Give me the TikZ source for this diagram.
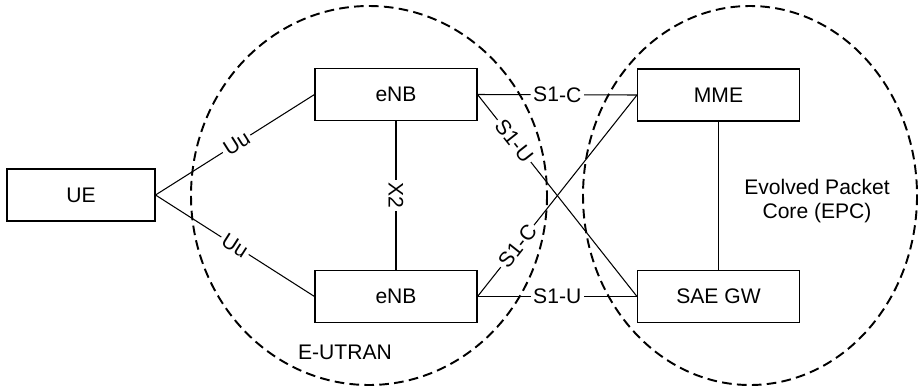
\documentclass[tikz,border=0pt]{standalone}
\usepackage{fontspec}
\setmainfont{Liberation Sans}
\begin{document}
\begin{tikzpicture}[x=0.02cm,y=-0.02cm,font=\fontsize{12}{13.6}\selectfont,
    entity/.style={draw,line width=0.6pt,minimum width=3.24cm,
      minimum height=1.04cm,inner sep=0pt},
    link/.style={line width=0.6pt},
    iface/.style={fill=white,inner sep=1.5pt,sloped},
    netarea/.style={line width=1.1pt,dash pattern=on 5.5pt off 3pt}]

    \useasboundingbox (0,0) rectangle (918,389);

    % network domains
    \draw[netarea] (369,195.5) ellipse [x radius=178,y radius=189.5];
    \draw[netarea] (750,195.5) ellipse [x radius=167,y radius=189.5];
    \node (eutranlabel) at (345,352) {E-UTRAN};
    \node[align=center] (epclabel) at (817,201) {Evolved Packet\\Core (EPC)};

    % network elements
    \node[entity,minimum width=2.96cm] (ue) at (81,195) {UE};
    \node[entity] (enbtop) at (396,94.5) {eNB};
    \node[entity] (enbbot) at (396,296.5) {eNB};
    \node[entity] (mme) at (718.5,95) {MME};
    \node[entity] (saegw) at (718.5,296.5) {SAE GW};

    % interfaces
    \draw[link] (ue.east) -- node[iface,pos=0.51] {Uu} (enbtop.west);
    \draw[link] (ue.east) -- node[iface,pos=0.5] {Uu} (enbbot.west);
    \draw[link] (enbtop) -- node[fill=white,inner sep=1.5pt,rotate=-90] {X2} (enbbot);
    \draw[link] (enbtop.east) -- node[iface,pos=0.5] {S1-C} (mme.west);
    \draw[link] (enbbot.east) -- node[iface,pos=0.5] {S1-U} (saegw.west);
    \draw[link] (enbtop.east) -- node[iface,pos=0.23] {S1-U} (saegw.west);
    \draw[link] (enbbot.east) -- node[iface,pos=0.25] {S1-C} (mme.west);
    \draw[link] (mme) -- (saegw);
  \end{tikzpicture}
\end{document}
